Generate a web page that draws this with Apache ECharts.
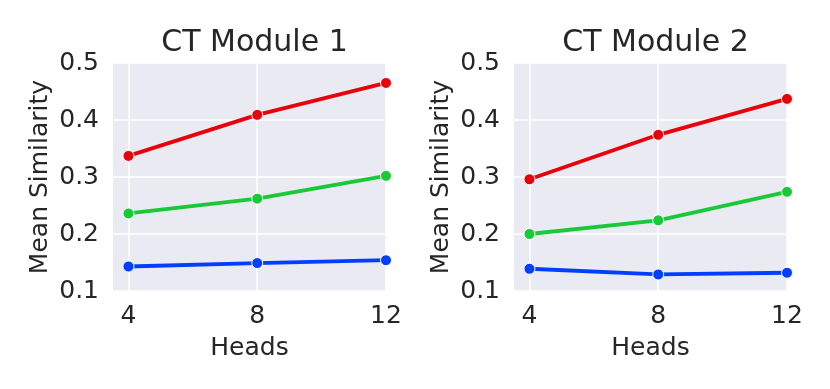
<!DOCTYPE html>
<html>
<head>
<meta charset="utf-8">
<style>
  html, body { margin: 0; padding: 0; background: #fff; }
  #chart { width: 830px; height: 389px; }
</style>
<script src="https://cdn.jsdelivr.net/npm/echarts@6/dist/echarts.min.js"></script>
</head>
<body>
<div id="chart"></div>
<script>
// values
const heads = [4, 8, 12]
const titles = ['CT Module 1', 'CT Module 2']
const yTicks = [0.1, 0.2, 0.3, 0.4, 0.5]

const redM1 = [0.337, 0.409, 0.465]
const greenM1 = [0.236, 0.262, 0.302]
const blueM1 = [0.143, 0.149, 0.154]

const redM2 = [0.296, 0.374, 0.437]
const greenM2 = [0.200, 0.224, 0.274]
const blueM2 = [0.139, 0.129, 0.132]

const colorList = ['#e8000b', '#1ac938', '#023eff']
const textColor = '#262626'
const font = 'DejaVu Sans'

const chart = echarts.init(document.getElementById('chart'), null, { renderer: 'canvas' })

const grids = [
  { left: 113, top: 63, width: 273, height: 228 },
  { left: 514, top: 63, width: 273, height: 228 }
]

function pairs(vals) {
  return heads.map((h, i) => [h, vals[i]])
}

function makeSeries(vals, color, idx) {
  return {
    type: 'line',
    xAxisIndex: idx,
    yAxisIndex: idx,
    data: pairs(vals),
    symbol: 'circle',
    symbolSize: 11,
    lineStyle: { color, width: 3.8 },
    itemStyle: { color, borderColor: '#fff', borderWidth: 1 },
    emphasis: { disabled: true },
    animation: false,
    z: 3
  }
}

const xAxes = grids.map((g, i) => ({
  type: 'value',
  gridIndex: i,
  min: 3.52,
  max: 12,
  name: 'Heads',
  nameLocation: 'middle',
  nameGap: 45,
  nameTextStyle: { color: textColor, fontSize: 25, fontFamily: font },
  axisLine: { show: false },
  axisTick: { show: false, customValues: heads },
  axisLabel: {
    customValues: heads,
    color: textColor,
    fontSize: 25,
    fontFamily: font,
    margin: 13
  },
  splitLine: { show: true, lineStyle: { color: '#fff', width: 1.5 } }
}))

const yAxes = grids.map((g, i) => ({
  type: 'value',
  gridIndex: i,
  min: yTicks[0],
  max: yTicks[yTicks.length - 1],
  interval: 0.1,
  name: 'Mean Similarity',
  nameLocation: 'middle',
  nameGap: 60,
  nameTextStyle: { color: textColor, fontSize: 25, fontFamily: font },
  axisLine: { show: false },
  axisTick: { show: false },
  axisLabel: {
    color: textColor,
    fontSize: 25,
    fontFamily: font,
    margin: 14,
    formatter: v => v.toFixed(1)
  },
  splitLine: { show: true, lineStyle: { color: '#fff', width: 1.5 } }
}))

chart.setOption({
  backgroundColor: '#fff',
  animation: false,
  title: titles.map((t, i) => ({
    text: t,
    left: grids[i].left + grids[i].width / 2,
    top: 23,
    textAlign: 'center',
    textStyle: { color: textColor, fontSize: 30, fontWeight: 'normal', fontFamily: font }
  })),
  grid: grids.map(g => Object.assign({
    show: true,
    backgroundColor: '#eaeaf2',
    borderWidth: 0
  }, g)),
  xAxis: xAxes,
  yAxis: yAxes,
  series: [
    makeSeries(redM1, colorList[0], 0),
    makeSeries(greenM1, colorList[1], 0),
    makeSeries(blueM1, colorList[2], 0),
    makeSeries(redM2, colorList[0], 1),
    makeSeries(greenM2, colorList[1], 1),
    makeSeries(blueM2, colorList[2], 1)
  ]
})
</script>
</body>
</html>
